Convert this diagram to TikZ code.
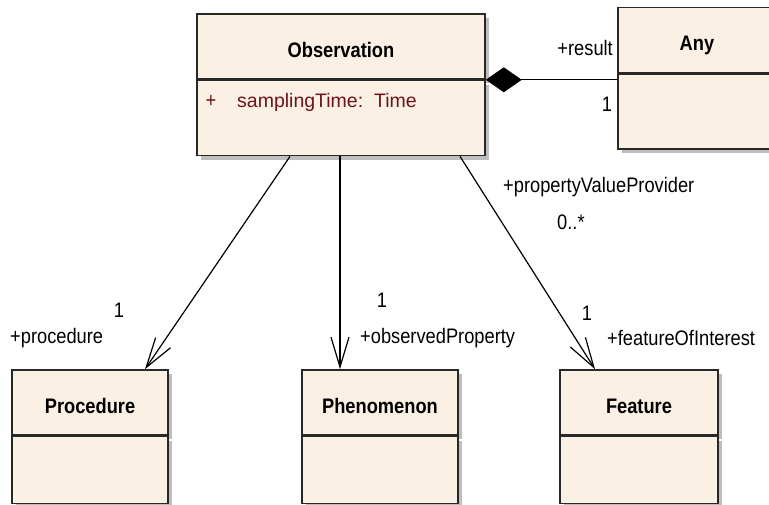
\documentclass[tikz,border=0pt]{standalone}
\usepackage{fontspec}
\setmainfont{Liberation Sans}
\newfontfamily\etroite[FakeStretch=0.87]{Liberation Sans}
\usepackage{tikz}
\usetikzlibrary{arrows.meta,shadows}

\definecolor{fond}{RGB}{250,240,228}
\definecolor{bord}{RGB}{40,40,40}
\definecolor{ombre}{RGB}{190,190,190}
\definecolor{attribut}{RGB}{110,20,25}

\begin{document}
\begin{tikzpicture}[x=1pt, y=-1pt]
			\tikzset{boite/.style={rectangle, draw=bord, line width=1.6pt, fill=fond, inner sep=0pt, drop shadow={shadow xshift=4pt, shadow yshift=-4pt, fill=ombre, opacity=1}},
				titre/.style={boite, minimum height=65pt, font=\etroite\fontsize{21}{22}\selectfont\bfseries, text height=22pt, text depth=0pt},
				corps/.style={boite, anchor=north},
				role/.style={inner sep=0pt, font=\etroite\fontsize{21}{22}\selectfont},
				fleche/.style={line width=1.2pt, -{Straight Barb[length=30pt, width=18pt]}},
				compo/.style={line width=1.2pt, {Diamond[length=36pt, width=25pt]}-}};

			\path[use as bounding box, fill=white] (0,0) rectangle (769,505);

			\node[titre, minimum width=288pt] (obs)  at (341,  46.5) {Observation};
			\node[corps, minimum width=288pt, minimum height=75pt] (obsattr) at (obs.south) {};
			\node[titre, minimum width=158pt] (any)  at (697,  40) {Any};
			\node[corps, minimum width=158pt, minimum height=75pt] (anyattr) at (any.south) {};
			\node[titre, minimum width=156pt] (proc) at ( 90, 402.5) {Procedure};
			\node[corps, minimum width=156pt, minimum height=67pt] (procattr) at (proc.south) {};
			\node[titre, minimum width=156pt] (phen) at (380, 402.5) {Phenomenon};
			\node[corps, minimum width=156pt, minimum height=67pt] (phenattr) at (phen.south) {};
			\node[titre, minimum width=158pt] (feat) at (639, 402.5) {Feature};
			\node[corps, minimum width=158pt, minimum height=67pt] (featattr) at (feat.south) {};

			\node[role, anchor=base, text=attribut] (plus) at (211, 108) {+};
			\node[role, anchor=base west, text=attribut, font=\fontsize{19.5}{22}\selectfont] (sampling) at (237, 108) {samplingTime:\ \ Time};

			\draw[compo]  (obs.south east) to (anyattr.west |- obs.south east);
			\draw[fleche] ([xshift=-51pt]obsattr.south) to ([xshift= 55pt]proc.north);
			\draw[fleche] ([xshift= -1pt]obsattr.south) to ([xshift=-40pt]phen.north);
			\draw[fleche] ([xshift=119pt]obsattr.south) to ([xshift=-44pt]feat.north);

			\node[role, anchor=base east] (result) at (613,  56) {+result};
			\node[role, anchor=base]      (mult1)  at (607, 112) {1};
			\node[role, anchor=base west] (procrole) at ( 10, 343) {+procedure};
			\node[role, anchor=base]      (mult2)  at (119, 318) {1};
			\node[role, anchor=base west] (phenrole) at (360, 343) {+observedProperty};
			\node[role, anchor=base]      (mult3)  at (382, 308) {1};
			\node[role, anchor=base west] (provider) at (503, 193) {+propertyValueProvider};
			\node[role, anchor=base west] (mult4)  at (557, 230) {0..*};
			\node[role, anchor=base]      (mult5)  at (587, 320) {1};
			\node[role, anchor=base west] (featrole) at (607, 345) {+featureOfInterest};

		\end{tikzpicture}
\end{document}
